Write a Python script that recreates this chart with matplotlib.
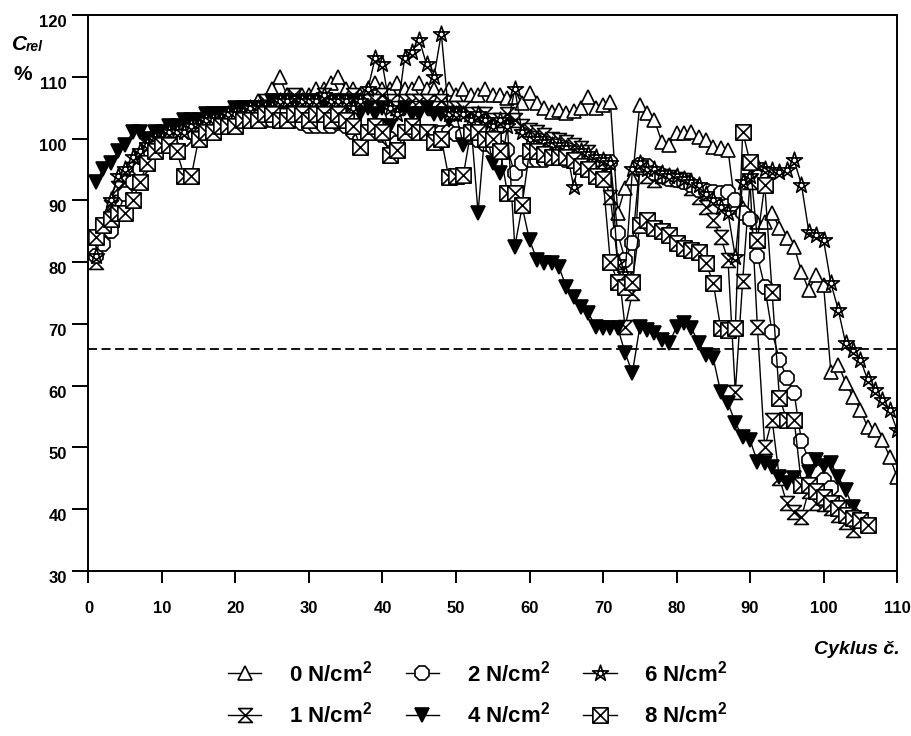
import numpy as np
import matplotlib.pyplot as plt
from matplotlib.path import Path
from matplotlib.transforms import ScaledTranslation

plt.rcParams['font.family'] = ['Liberation Sans', 'DejaVu Sans']
plt.rcParams['font.weight'] = 'bold'
plt.rcParams['mathtext.fontset'] = 'custom'
plt.rcParams['mathtext.rm'] = 'Liberation Sans:bold'
plt.rcParams['mathtext.bf'] = 'Liberation Sans:bold'

# relative capacity (%) per cycle, one list per pressure
c0 = [84, 86, 89, 92, 94, 95, 96, 99, 100, 100, 101, 101, 101, 102, 103, 103, 104, 104, 104, 105,
      105, 105, 106, 106, 108, 110, 107, 106, 107, 107, 108, 108, 109, 110, 108, 108, 107, 108, 109, 108,
      108, 109, 108, 108, 109, 108, 108, 107, 108, 107, 108, 107, 107, 108, 107, 107, 106.6, 106.7, 105.8, 107.4,
      105.8, 105, 104.3, 104.6, 104.1, 104.5, 105, 106.7, 105, 105.5, 105.9, 88, 92, 93.6, 105.4, 104.1, 103, 99.4, 99, 100.9,
      100.9, 101, 100.3, 99.8, 98.6, 98.5, 98.2, 89, 88.8, 87.3, 86.5, 86.5, 88, 85.5, 83.9, 82.5, 78.4, 75.5, 77.9, 76.3,
      62.2, 63.4, 60.5, 58.2, 56.1, 53.3, 52.8, 51.2, 48.5, 45.2]
c1 = [80, 85, 89, 92, 93, 95, 97, 99, 100, 100, 101, 101, 102, 102, 103, 103, 103, 104, 104, 104,
      105, 105, 105, 106, 106, 106, 106, 107, 106, 106, 106, 107, 106, 106, 106, 107, 106, 106, 106, 107,
      106, 105, 106, 106, 106, 106, 105, 106, 105, 105, 105, 104, 104, 104, 103, 103, 104, 103, 102, 101.4,
      101, 100.6, 100, 99.8, 99.5, 99, 98.5, 97.8, 96, 94.4, 90.5, 80, 69.5, 75, 95.4, 94, 93.3, 94, 93.8, 93.5,
      93.3, 92, 90.5, 89, 86.8, 84, 80.4, 59, 77, 93, 69.5, 50, 54.5, 45, 41, 39.6, 38.8, 43, 41, 40.8,
      40.2, 39.1, 38, 36.7]
c2 = [81, 83, 85, 88, 91, 93, 95, 97, 98, 99, 99, 100, 100, 101, 101, 101, 102, 102, 102, 102,
      103, 103, 103, 103, 103, 103, 103, 103, 102.5, 102, 102, 102, 102, 102.5, 102, 101, 99.8, 101, 101.4, 100.5,
      100, 99.3, 101, 101, 101, 101, 101, 100.9, 101, 100.8, 100.6, 100.2, 99.8, 99.2, 98.6, 98.4, 98.2, 94.4, 96, 96.5,
      96.5, 96.5, 96.9, 96.9, 96.5, 96.5, 96.2, 96.2, 96.2, 96.2, 96.2, 84.7, 80.4, 83.1, 95.7, 95.5, 94.5, 94, 93.5, 93.3,
      93, 92.5, 91.7, 91.5, 91.3, 91.2, 91.4, 90, 88, 87, 81, 76, 68.7, 64.2, 61.3, 58.8, 51, 48, 46, 44.8,
      43.5, 41, 40, 39.1]
c4 = [93, 95, 96, 98, 99, 101, 101, 100, 101, 101, 102, 102, 103, 103, 103, 104, 104, 104, 104, 105,
      105, 105, 105, 105, 106, 106, 106, 105, 106, 106, 105, 106, 105, 106, 105, 106, 104, 105, 104, 105,
      102, 104, 105, 104, 104, 105, 104, 104, 103, 104, 99, 103, 88, 102, 96, 94.4, 102, 82.5, 89, 83.6,
      80.4, 79.9, 79.9, 79.2, 76, 74.4, 72.8, 71.8, 69.5, 69.4, 69.4, 69.4, 65.3, 62.1, 69.5, 69, 68.5, 67.4, 66.9, 69.5,
      70.2, 69.4, 66.9, 65, 64.4, 59, 57.2, 54, 51.7, 51.2, 47.7, 47.5, 46.9, 45.2, 44.3, 45, 44, 46, 48, 47,
      47.5, 45.2, 43.1, 40.4]
c6 = [81, 86, 90, 94, 95, 97, 98, 99, 100, 100, 101, 101, 101, 102, 102, 103, 103, 103, 104, 104,
      104, 105, 105, 105, 105, 106, 106, 105, 106, 106, 106, 107, 106, 106, 106, 105, 106, 108, 113, 112,
      105, 104, 113, 114, 116, 112, 110, 117, 104, 104, 104, 103, 104, 103, 102, 103, 102, 108, 101, 100,
      100, 99.5, 99, 99, 98.5, 92.2, 98, 97.5, 97, 96.5, 96, 80, 78, 95, 96, 95, 95, 94.5, 94, 94,
      93.5, 93, 92.5, 91, 90, 89, 88, 80.8, 93, 94, 95.7, 95, 94.9, 94.6, 94.9, 96.5, 92.5, 84.9, 84.4, 83.6,
      76.6, 72.3, 66.9, 65.8, 64.2, 61, 59.3, 57.7, 56.1, 52.8]
c8 = [84, 86, 87, 88, 88, 90, 93, 96, 98, 99, 99, 98, 94, 94, 100, 101, 101, 102, 102, 102,
      103, 103, 103, 104, 104, 103, 103, 104, 104, 103, 104, 104, 103, 104, 103, 102, 98.6, 101, 102, 101,
      97.3, 98.2, 101, 102, 101, 101, 99.5, 100, 93.8, 94, 94.1, 101, 101, 100, 100, 98, 91.2, 91.2, 89.3, 98,
      98, 97.5, 97, 97, 97, 96.5, 95.5, 95, 94, 93.5, 80, 76.8, 76, 76.8, 86, 86.8, 85.5, 85, 84.4, 83.1,
      82.3, 82, 81.6, 79.9, 76.6, 69.4, 69, 69.4, 101.1, 96.2, 83.6, 92.5, 75.2, 58, 54.5, 54.5, 44, 44, 43, 42,
      41, 40.2, 39, 38.5, 38.3, 37.5]

labels = ['0 N/cm$^{2}$', '1 N/cm$^{2}$', '2 N/cm$^{2}$', '4 N/cm$^{2}$', '6 N/cm$^{2}$', '8 N/cm$^{2}$']
limit = 66

# marker shapes
M, L, C = Path.MOVETO, Path.LINETO, Path.CLOSEPOLY
hourglass = Path([(-1, 1), (1, 1), (-1, -1), (1, -1), (-1, 1)], [M, L, L, L, C])
ang = np.deg2rad(90 + 144 * np.arange(5))
pts = list(zip(np.cos(ang), np.sin(ang)))
pentagram = Path(pts + [pts[0]], [M, L, L, L, L, C])
boxx = Path([(-1, -1), (1, -1), (1, 1), (-1, 1), (-1, -1), (-1, -1), (1, 1), (-1, 1), (1, -1)],
            [M, L, L, L, C, M, L, M, L])

fig = plt.figure(figsize=(9.12, 7.36), dpi=100)
ax = fig.add_axes([0.097, 0.2242, 0.8866, 0.7554])

styles = [
    dict(marker='^', ms=10, mfc='white'),
    dict(marker=hourglass, ms=10, mfc='white'),
    dict(marker='8', ms=11, mfc='white'),
    dict(marker='v', ms=10, mfc='black'),
    dict(marker=pentagram, ms=12, mfc='white'),
    dict(marker=boxx, ms=11, mfc='white'),
]
handles = []
for data, st, lab in zip([c0, c1, c2, c4, c6, c8], styles, labels):
    cyc = np.arange(1, len(data) + 1)
    h, = ax.plot(cyc, data, color='black', lw=1.0, mec='black', mew=1.2, label=lab, **st)
    handles.append(h)

ax.axhline(limit, color='black', lw=1.3, dashes=(5, 2.5))

ax.set_xlim(0, 110)
ax.set_ylim(30, 120)
ax.set_xticks(np.arange(0, 111, 10))
ax.set_yticks(np.arange(30, 121, 10))
for s in ax.spines.values():
    s.set_linewidth(1.4)
ax.tick_params(axis='y', direction='out', length=11.5, width=1.4, pad=4, labelsize=12)
ax.tick_params(axis='x', direction='out', length=8.5, width=1.4, pad=13, labelsize=12)
off = ScaledTranslation(0, -0.06, fig.dpi_scale_trans)
for t in ax.get_yticklabels():
    t.set_transform(t.get_transform() + off)

fig.text(12 / 912, 1 - 45 / 736, 'C', fontsize=15, style='italic', weight='bold', va='center')
fig.text(26 / 912, 1 - 47 / 736, 'rel', fontsize=10, style='italic', weight='bold', va='center')
fig.text(14 / 912, 1 - 75 / 736, '%', fontsize=15, weight='bold', va='center')
fig.text(900 / 912, 1 - 650 / 736, 'Cyklus č.', fontsize=14, style='italic', weight='bold', ha='right', va='center')

fig.legend(handles=handles, loc='upper left', bbox_to_anchor=(0.25, 0.103), ncol=3, frameon=False,
           fontsize=16, handlelength=1.5, handletextpad=1.25, columnspacing=1.5, labelspacing=0.7,
           borderpad=0, borderaxespad=0)

fig.savefig('out.png', dpi=100)
